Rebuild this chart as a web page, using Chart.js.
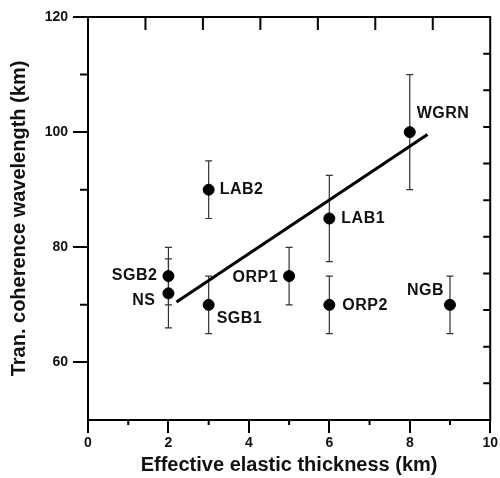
<!DOCTYPE html>
<html lang="en">
  <head>
    <meta charset="UTF-8" />
    <title>Coherence wavelength vs elastic thickness</title>
    <script src="https://cdn.jsdelivr.net/npm/chart.js"></script>
    <style>
      body {
        margin: 0;
        background: #fff;
      }
    </style>
  </head>

  <body>
    <canvas id="chart" width="500" height="478"></canvas>

    <script>
      // values
      const siteNames = ["NS", "SGB2", "SGB1", "LAB2", "ORP1", "LAB1", "ORP2", "WGRN", "NGB"];
      const teValues = [2, 2, 3, 3, 5, 6, 6, 8, 9];
      const wavelengths = [72, 75, 70, 90, 75, 85, 70, 100, 70];
      const errors = [6, 5, 5, 5, 5, 7.5, 5, 10, 5];
      const fitX = [2.2, 8.44];
      const fitY = [70.5, 99.6];
      const xTicks = [0, 2, 4, 6, 8, 10];
      const yTicks = [60, 80, 100, 120];
      const xMinor = [1, 3, 5, 7, 9];
      const yMinor = [70, 90, 110];

      // label placement next to each point: [dx, dy, align]
      const labelPos = [
        [-13, 7, "right"],
        [-11, 0, "right"],
        [8, 14, "left"],
        [11, 0, "left"],
        [-11, 2, "right"],
        [12, 0, "left"],
        [13, 1, "left"],
        [7, -19, "left"],
        [-6, -14, "right"],
      ];

      const FONT = "'Liberation Sans', Arial, sans-serif";

      const extras = {
        id: "extras",
        beforeDatasetsDraw(chart) {
          const { ctx, scales } = chart;
          const x = scales.x, y = scales.y;
          ctx.save();
          ctx.strokeStyle = "#333";
          ctx.lineWidth = 1.2;
          teValues.forEach((v, i) => {
            const px = x.getPixelForValue(v);
            const top = y.getPixelForValue(wavelengths[i] + errors[i]);
            const bot = y.getPixelForValue(wavelengths[i] - errors[i]);
            ctx.beginPath();
            ctx.moveTo(px, top);
            ctx.lineTo(px, bot);
            ctx.moveTo(px - 3.5, top);
            ctx.lineTo(px + 3.5, top);
            ctx.moveTo(px - 3.5, bot);
            ctx.lineTo(px + 3.5, bot);
            ctx.stroke();
          });
          ctx.restore();
        },
        afterDraw(chart) {
          const { ctx, chartArea: a, scales } = chart;
          const x = scales.x, y = scales.y;
          ctx.save();
          ctx.strokeStyle = "#000";
          ctx.lineWidth = 2;
          ctx.strokeRect(a.left, a.top, a.right - a.left, a.bottom - a.top);

          ctx.beginPath();
          // minor ticks outside
          yMinor.forEach((v) => {
            const py = y.getPixelForValue(v);
            ctx.moveTo(a.left - 8, py);
            ctx.lineTo(a.left, py);
          });
          xMinor.forEach((v) => {
            const px = x.getPixelForValue(v);
            ctx.moveTo(px, a.bottom);
            ctx.lineTo(px, a.bottom + 5);
          });
          // top and right frame ticks pointing inward
          for (let i = 1; i < 7; i++) {
            const px = a.left + ((a.right - a.left) * i) / 7;
            ctx.moveTo(px, a.top);
            ctx.lineTo(px, a.top + 13);
          }
          for (let i = 1; i < 11; i++) {
            const py = a.top + ((a.bottom - a.top) * i) / 11;
            ctx.moveTo(a.right, py);
            ctx.lineTo(a.right - 7, py);
          }
          ctx.stroke();

          // point labels
          ctx.fillStyle = "#111";
          ctx.font = "bold 16px " + FONT;
          ctx.letterSpacing = "0.5px";
          ctx.textBaseline = "middle";
          siteNames.forEach((name, i) => {
            const px = x.getPixelForValue(teValues[i]);
            const py = y.getPixelForValue(wavelengths[i]);
            const p = labelPos[i];
            ctx.textAlign = p[2];
            ctx.fillText(name, px + p[0], py + p[1]);
          });
          ctx.restore();
        },
      };

      new Chart(document.getElementById("chart"), {
        type: "scatter",
        data: {
          datasets: [
            {
              label: "Sites",
              data: teValues.map((v, i) => ({ x: v, y: wavelengths[i] })),
              backgroundColor: "#000",
              borderColor: "#000",
              pointRadius: 5.5,
            },
            {
              label: "Fit",
              data: fitX.map((v, i) => ({ x: v, y: fitY[i] })),
              showLine: true,
              borderColor: "#000",
              borderWidth: 3,
              pointRadius: 0,
            },
          ],
        },
        options: {
          responsive: false,
          animation: false,
          layout: { padding: { top: 17, right: 9, left: 0, bottom: 0 } },
          plugins: {
            legend: { display: false },
            tooltip: { enabled: false },
          },
          scales: {
            x: {
              type: "linear",
              min: 0,
              max: 10,
              afterBuildTicks: (s) => {
                s.ticks = xTicks.map((v) => ({ value: v }));
              },
              afterFit: (s) => {
                s.height = 58;
              },
              border: { display: true, color: "#000", width: 2 },
              grid: {
                drawOnChartArea: false,
                drawTicks: true,
                tickLength: 13,
                color: "#000",
                lineWidth: 2,
              },
              ticks: {
                color: "#111",
                padding: 2,
                maxRotation: 0,
                font: { family: FONT, size: 14, weight: "bold" },
              },
              title: {
                display: true,
                text: "Effective elastic thickness (km)",
                color: "#111",
                font: { family: FONT, size: 20, weight: "bold" },
                padding: { top: 0, bottom: 1 },
              },
            },
            y: {
              type: "linear",
              min: 50,
              max: 120,
              afterBuildTicks: (s) => {
                s.ticks = yTicks.map((v) => ({ value: v }));
              },
              afterFit: (s) => {
                s.width = 88;
              },
              border: { display: true, color: "#000", width: 2 },
              grid: {
                drawOnChartArea: false,
                drawTicks: true,
                tickLength: 15,
                color: "#000",
                lineWidth: 2,
              },
              ticks: {
                color: "#111",
                padding: 5,
                font: { family: FONT, size: 14, weight: "bold" },
              },
              title: {
                display: true,
                text: "Tran. coherence wavelength (km)",
                color: "#111",
                font: { family: FONT, size: 20, weight: "bold" },
                padding: { top: 7, bottom: 0 },
              },
            },
          },
        },
        plugins: [extras],
      });
    </script>
  </body>
</html>
